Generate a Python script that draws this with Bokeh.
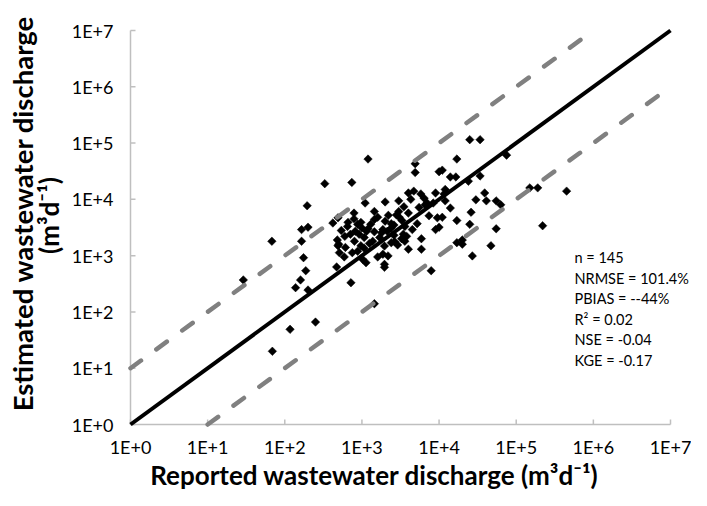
import numpy as np
from bokeh.plotting import figure
from bokeh.models import Label, Range1d
from bokeh.embed import file_html
from bokeh.resources import INLINE

# ---- data ----
reported = [25000, 34000, 1200, 17000, 4900, 4900, 75000, 10000, 11000, 14000,
            16500, 34000, 24000, 330, 740, 150000, 190000, 4000, 4700, 5800,
            6400, 9000, 12000, 11600, 39000, 30000, 41000, 55000, 63000, 1100,
            2000, 3000, 7000, 8400, 12000, 14000, 26000, 7400, 9500, 11000,
            17000, 25000, 220000, 55000, 9000, 10000, 5900, 5900, 4000, 17000,
            20000, 20000, 47000, 27000, 7900, 450000,
            195, 490, 420, 790, 790, 970, 165, 200, 540, 710,
            1000, 1070, 68, 165, 480, 500, 490, 610, 750, 880,
            970, 510, 590, 1020, 1130, 175, 470, 187, 29, 160,
            138, 200, 720, 250, 117, 69, 1450,
            660, 1450, 1450, 2000, 3000, 2800, 3050, 4000, 2400, 1200,
            1450, 1800, 1870, 2130, 2400, 920, 1380, 1960, 2400, 2660,
            3270, 3600, 3800, 3440, 1600, 1870, 2180, 1960, 1960, 1070,
            600, 650, 820, 880, 1150, 1300, 1600, 2200, 2600, 3300,
            3600, 4500, 5200, 5500, 6600, 4300, 3500, 2600, 1250, 800,
            1700, 2900]

estimated = [115000, 115000, 52000, 52000, 43000, 30000, 61000, 31000, 33000, 25000,
             25000, 26000, 21000, 19000, 20000, 16000, 16000, 13000, 14000, 12500,
             10500, 13000, 15000, 12500, 13000, 9800, 9400, 9400, 8000, 8600,
             9000, 9400, 8600, 8600, 9400, 7000, 5900, 5100, 4700, 4800,
             4200, 3600, 3400, 3000, 2900, 3200, 2000, 1300, 1300, 1700,
             1900, 1600, 1500, 990, 540, 14000,
             7700, 4700, 3800, 5700, 4500, 3900, 2900, 3200, 2800, 2400,
             3100, 2100, 1800, 1800, 1900, 1600, 1500, 1400, 1130, 1200,
             1500, 1130, 950, 860, 750, 920, 630, 540, 370, 370,
             270, 245, 330, 66, 49, 20, 140,
             3900, 6100, 4400, 4100, 6100, 5300, 4800, 5700, 3700, 3000,
             2650, 2550, 2900, 2700, 3100, 2400, 1800, 1480, 1700, 1770,
             2000, 1800, 2200, 2400, 950, 1060, 990, 700, 620, 1350,
             2200, 3300, 2700, 3600, 2700, 3600, 4800, 5200, 3500, 4200,
             3300, 2900, 3700, 7200, 8000, 10000, 7400, 2300, 1650, 1800,
             2100, 1550]

decade_ticks = [1, 10, 100, 1e3, 1e4, 1e5, 1e6, 1e7]
tick_labels = ["1E+0", "1E+1", "1E+2", "1E+3", "1E+4", "1E+5", "1E+6", "1E+7"]

stats_lines = ["n = 145", "NRMSE  = 101.4%", "PBIAS = --44%",
               "R\u00b2 = 0.02", "NSE = -0.04", "KGE = -0.17"]

x_title = "Reported wastewater discharge (m\u00b3d\u207b\u00b9)"
y_title_1 = "Estimated wastewater discharge"
y_title_2 = "(m\u00b3d\u207b\u00b9)"

FONT = "Lato"
AXIS_GREY = "#bfbfbf"

# ---- layout: the frame fills the whole canvas; the axes box sits inside ----
W, H = 691, 490
AX_L, AX_R, AX_T, AX_B = 130, 670, 30, 424      # canvas pixels of the axes box
px_x = (AX_R - AX_L) / 7.0                      # pixels per decade
px_y = (AX_B - AX_T) / 7.0
x_range = Range1d(10 ** (-AX_L / px_x), 10 ** (7 + (W - AX_R) / px_x))
y_range = Range1d(10 ** (-(H - AX_B) / px_y), 10 ** (7 + AX_T / px_y))
TICK_PX = 5

p = figure(width=W, height=H, x_axis_type="log", y_axis_type="log",
           x_range=x_range, y_range=y_range,
           x_axis_location=None, y_axis_location=None,
           output_backend="svg", toolbar_location=None,
           min_border=0)
p.title.visible = False
p.outline_line_color = None
p.grid.visible = False
p.background_fill_color = "white"
p.border_fill_color = "white"

lo, hi = decade_ticks[0], decade_ticks[-1]
n = len(decade_ticks)

# axis lines and inward tick marks
p.line([lo, hi], [lo, lo], line_color=AXIS_GREY, line_width=1.5)
p.line([lo, lo], [lo, hi], line_color=AXIS_GREY, line_width=1.5)
p.segment(x0=decade_ticks, y0=[lo] * n, x1=decade_ticks,
          y1=[lo * 10 ** (TICK_PX / px_y)] * n, line_color=AXIS_GREY, line_width=1.5)
p.segment(x0=[lo] * n, y0=decade_ticks, x1=[lo * 10 ** (TICK_PX / px_x)] * n,
          y1=decade_ticks, line_color=AXIS_GREY, line_width=1.5)

# reference lines derived from the axis decades
one_x = [lo, hi]
up_x = [lo, decade_ticks[-2]]
up_y = [v * 10 for v in up_x]
lo_x = [decade_ticks[1], hi]
lo_y = [v / 10 for v in lo_x]

# points
p.scatter(reported, estimated, marker="square", size=6, angle=np.pi / 4,
          fill_color="black", line_color="black", line_width=0.5)

p.line(up_x, up_y, line_color="#808080", line_width=4.5, line_dash="13 19",
       line_cap="round")
p.line(lo_x, lo_y, line_color="#808080", line_width=4.5, line_dash="13 19",
       line_cap="round")
p.line(one_x, one_x, line_color="black", line_width=4)

# tick labels
for t, lab in zip(decade_ticks, tick_labels):
    p.add_layout(Label(x=t, y=H - 446, x_units="data", y_units="screen",
                       text=lab, text_align="center", text_baseline="middle",
                       text_font=FONT, text_font_size="18px", text_color="black"))
    p.add_layout(Label(x=113, y=t, x_units="screen", y_units="data",
                       text=lab, text_align="right", text_baseline="middle",
                       text_font=FONT, text_font_size="18px", text_color="black"))

# axis titles
p.add_layout(Label(x=374, y=H - 474, x_units="screen", y_units="screen", text=x_title,
                   text_align="center", text_baseline="middle",
                   text_font=FONT, text_font_size="26px", text_font_style="bold",
                   text_color="black"))
p.add_layout(Label(x=22, y=H - 213, x_units="screen", y_units="screen",
                   text=y_title_1, angle=np.pi / 2,
                   text_align="center", text_baseline="middle",
                   text_font=FONT, text_font_size="27.5px", text_font_style="bold",
                   text_color="black"))
p.add_layout(Label(x=48, y=H - 215, x_units="screen", y_units="screen",
                   text=y_title_2, angle=np.pi / 2,
                   text_align="center", text_baseline="middle",
                   text_font=FONT, text_font_size="26px", text_font_style="bold",
                   text_color="black"))

# statistics block
for i, t in enumerate(stats_lines):
    p.add_layout(Label(x=574, y=H - 257 - i * 20.5, x_units="screen", y_units="screen",
                       text=t, text_font=FONT, text_font_size="14.5px",
                       text_baseline="middle", text_color="black"))

open("out.html", "w").write(file_html(p, INLINE))
